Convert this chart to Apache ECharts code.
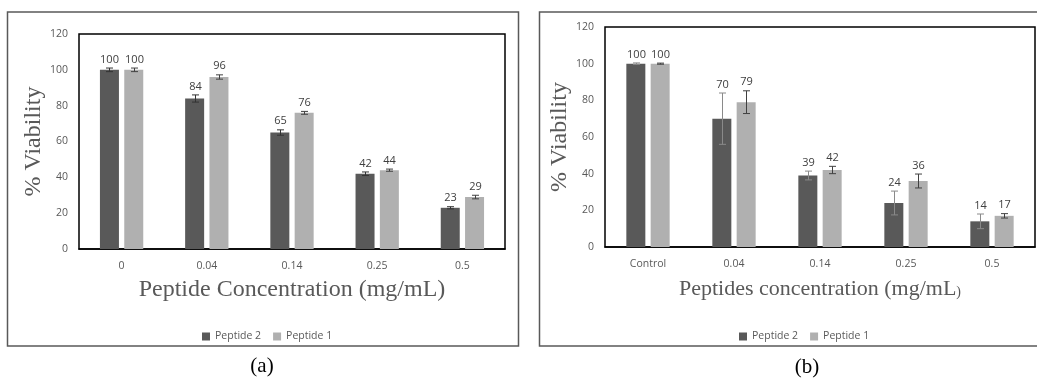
<!DOCTYPE html>
<html>
<head>
<meta charset="utf-8">
<script src="https://cdn.jsdelivr.net/npm/echarts@6/dist/echarts.min.js"></script>
<style>
html,body{margin:0;padding:0;background:#fff;}
#chart{width:1037px;height:380px;}
</style>
</head>
<body>
<div id="chart"></div>
<script>
// ---- data ----
const catsA = ['0', '0.04', '0.14', '0.25', '0.5'];
const catsB = ['Control', '0.04', '0.14', '0.25', '0.5'];
const seriesNames = ['Peptide 2', 'Peptide 1'];
const p2A = [100, 84, 65, 42, 23];
const p1A = [100, 96, 76, 44, 29];
const p2ErrA = [1, 2, 1.5, 1, 0.6];
const p1ErrA = [1, 1.2, 0.8, 0.6, 1];
const p2B = [100, 70, 39, 24, 14];
const p1B = [100, 79, 42, 36, 17];
const p2ErrB = [0.4, 14, 2.4, 6.5, 4];
const p1ErrB = [0.3, 6.2, 2, 3.8, 1.2];
const yTicks = [0, 20, 40, 60, 80, 100, 120];
const xTitleA = 'Peptide Concentration (mg/mL)';
const xTitleB = 'Peptides concentration (mg/mL';
const yTitle = '% Viability';

// ---- styling ----
const DARK = '#595959', LIGHT = '#b0b0b0';
const BAR_W = 19, GAP = 0.28;
const OFF = BAR_W / 2 + BAR_W * GAP / 2;
const sans = "'Open Sans', 'Liberation Sans', sans-serif";
const serif = "'Liberation Serif', 'DejaVu Serif', serif";

function errData(vals, errs, s) {
  return vals.map((v, i) => [i, v - errs[i], v + errs[i], s, v]);
}

function makeRender(colors) {
  return function (params, api) {
    const ci = api.value(0), lo = api.value(1), hi = api.value(2), s = api.value(3), v = api.value(4);
    const top = api.coord([ci, hi]);
    const bot = api.coord([ci, lo]);
    const x = Math.round(top[0] + (s === 0 ? -OFF : OFF)) + 0.5;
    const c = colors[s];
    const cap = 3.5;
    const st = { stroke: c, lineWidth: 1 };
    return {
      type: 'group',
      children: [
        { type: 'line', shape: { x1: x, y1: top[1], x2: x, y2: bot[1] }, style: st },
        { type: 'line', shape: { x1: x - cap, y1: top[1], x2: x + cap, y2: top[1] }, style: st },
        { type: 'line', shape: { x1: x - cap, y1: bot[1], x2: x + cap, y2: bot[1] }, style: st },
        { type: 'text', x: x, y: top[1] - 3,
          style: { text: String(v), textAlign: 'center', textVerticalAlign: 'bottom',
                   fill: '#404040', font: '11px ' + sans } }
      ]
    };
  };
}

const yAxisCommon = {
  type: 'value', min: 0, max: 120, interval: 20,
  splitLine: { show: false }, axisLine: { show: false }, axisTick: { show: false },
  axisLabel: { color: '#595959', fontFamily: sans, fontSize: 10.5, margin: 11 },
  name: yTitle, nameLocation: 'middle',
  nameTextStyle: { fontFamily: serif, fontSize: 24, color: '#595959' }
};
const xAxisCommon = {
  type: 'category',
  axisTick: { show: false },
  axisLine: { show: true, lineStyle: { color: '#000', width: 1.5 } },
  axisLabel: { color: '#595959', fontFamily: sans, fontSize: 10.5, margin: 12 },
  nameLocation: 'middle',
  nameTextStyle: { fontFamily: serif, fontSize: 24, color: '#595959' }
};

const barCommon = { type: 'bar', barWidth: BAR_W, barGap: (GAP * 100) + '%', z: 2 };

const option = {
  backgroundColor: '#fff',
  animation: false,
  graphic: [
    { type: 'rect', shape: { x: 7.5, y: 12, width: 511, height: 334 }, style: { fill: 'none', stroke: '#595959', lineWidth: 1.5 }, z: -1 },
    { type: 'rect', shape: { x: 539.5, y: 12, width: 520, height: 334 }, style: { fill: 'none', stroke: '#595959', lineWidth: 1.5 }, z: -1 },
    { type: 'text', x: 262, y: 366, style: { text: '(a)', textAlign: 'center', textVerticalAlign: 'middle', font: '21px ' + serif, fill: '#000' } },
    { type: 'text', x: 807, y: 367, style: { text: '(b)', textAlign: 'center', textVerticalAlign: 'middle', font: '21px ' + serif, fill: '#000' } }
  ],
  legend: [
    { data: seriesNames, left: 197, top: 326, itemWidth: 8, itemHeight: 8, itemGap: 12,
      icon: 'rect', textStyle: { color: '#595959', fontFamily: sans, fontSize: 10.5 } },
    { data: seriesNames, left: 734, top: 326, itemWidth: 8, itemHeight: 8, itemGap: 12,
      icon: 'rect', textStyle: { color: '#595959', fontFamily: sans, fontSize: 10.5 } }
  ],
  grid: [
    { left: 79, top: 34, width: 426, height: 215, show: true, borderColor: '#000', borderWidth: 1.5 },
    { left: 605, top: 27, width: 430, height: 220, show: true, borderColor: '#000', borderWidth: 1.5 }
  ],
  xAxis: [
    Object.assign({}, xAxisCommon, { gridIndex: 0, data: catsA, name: xTitleA, nameGap: 29 }),
    Object.assign({}, xAxisCommon, { gridIndex: 1, data: catsB, name: xTitleB + '{s|)}', nameGap: 31,
      nameTextStyle: { fontFamily: serif, fontSize: 22, color: '#595959',
        rich: { s: { fontFamily: serif, fontSize: 14, color: '#595959', padding: [6, 0, 0, 0] } } } })
  ],
  yAxis: [
    Object.assign({}, yAxisCommon, { gridIndex: 0, nameGap: 31 }),
    Object.assign({}, yAxisCommon, { gridIndex: 1, nameGap: 29 })
  ],
  series: [
    Object.assign({}, barCommon, { name: seriesNames[0], xAxisIndex: 0, yAxisIndex: 0, data: p2A, itemStyle: { color: DARK } }),
    Object.assign({}, barCommon, { name: seriesNames[1], xAxisIndex: 0, yAxisIndex: 0, data: p1A, itemStyle: { color: LIGHT } }),
    { type: 'custom', name: 'errA', xAxisIndex: 0, yAxisIndex: 0, z: 5,
      renderItem: makeRender(['#333333', '#404040']),
      data: errData(p2A, p2ErrA, 0).concat(errData(p1A, p1ErrA, 1)) },
    Object.assign({}, barCommon, { name: seriesNames[0], xAxisIndex: 1, yAxisIndex: 1, data: p2B, itemStyle: { color: DARK } }),
    Object.assign({}, barCommon, { name: seriesNames[1], xAxisIndex: 1, yAxisIndex: 1, data: p1B, itemStyle: { color: LIGHT } }),
    { type: 'custom', name: 'errB', xAxisIndex: 1, yAxisIndex: 1, z: 5,
      renderItem: makeRender(['#8a8a8a', '#404040']),
      data: errData(p2B, p2ErrB, 0).concat(errData(p1B, p1ErrB, 1)) }
  ]
};

const chart = echarts.init(document.getElementById('chart'), null, { renderer: 'canvas' });
chart.setOption(option);
</script>
</body>
</html>
